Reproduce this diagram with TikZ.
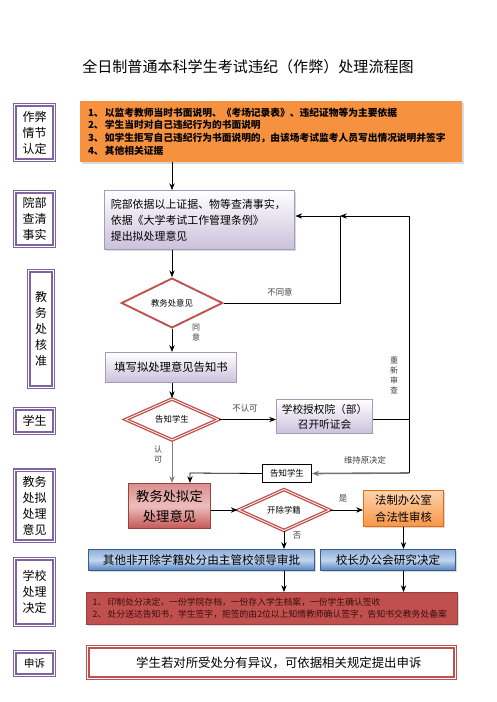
\documentclass[tikz,border=0pt]{standalone}
\usepackage{fontspec}
\setmainfont{Noto Sans CJK SC}
\usepackage{tikz}
\usetikzlibrary{shapes.geometric, arrows.meta, positioning, shadows}
\definecolor{lblpurple}{HTML}{8064A2}
\definecolor{evidorange}{HTML}{F5913F}
\definecolor{palebot}{HTML}{CBC0DC}
\definecolor{paleline}{HTML}{A39BB8}
\definecolor{warnred}{HTML}{C0504D}
\definecolor{drafttop}{HTML}{D98F8E}
\definecolor{draftmid}{HTML}{EDBDBC}
\definecolor{draftbot}{HTML}{C45856}
\definecolor{legaltop}{HTML}{FCD3AE}
\definecolor{legalbot}{HTML}{F79646}
\definecolor{legalline}{HTML}{E46C0A}
\definecolor{bluetop}{HTML}{8EAEDA}
\definecolor{bluemid}{HTML}{C3D6EE}
\definecolor{bluebot}{HTML}{5484C2}
\definecolor{blueline}{HTML}{385D8A}
\definecolor{decidetext}{HTML}{3B0E0D}
\newcommand\numitem[2][12.75pt]{\makebox[#1][l]{#2}}
\tikzset{
  lbl/.style={rectangle, draw=lblpurple, line width=1.1pt, double=white, double distance=0.6pt, fill=white, align=center, font=\fontsize{9}{12}\selectfont, inner sep=0pt},
  shade/.style={drop shadow={shadow xshift=1.2pt, shadow yshift=-1.2pt, opacity=0.3}},
  evid/.style={rectangle, fill=evidorange, align=left, font=\bfseries\fontsize{7.3}{9.5}\selectfont, inner xsep=6pt, inner ysep=3pt, shade},
  pale/.style={rectangle, draw=paleline, line width=0.8pt, top color=white, bottom color=palebot, align=center, inner sep=2pt},
  choice/.style={diamond, draw=warnred, line width=1.4pt, fill=white, align=center, font=\fontsize{6.3}{7.5}\selectfont, inner sep=0pt},
  choicetwo/.style={choice, line width=1pt, double=white, double distance=0.6pt},
  tag/.style={rectangle, draw=black, line width=0.7pt, fill=white, font=\fontsize{6.3}{7.5}\selectfont, inner sep=0pt},
  draft/.style={rectangle, draw=warnred!80!black, line width=0.7pt, top color=drafttop, bottom color=draftbot, middle color=draftmid, align=center, font=\fontsize{10}{15}\selectfont, inner sep=0pt},
  legal/.style={rectangle, draw=legalline, line width=0.7pt, top color=legaltop, bottom color=legalbot, align=center, font=\fontsize{8.5}{12.75}\selectfont, inner sep=0pt, shade},
  blueb/.style={rectangle, draw=blueline, line width=0.7pt, top color=bluetop, bottom color=bluebot, middle color=bluemid, font=\fontsize{8.7}{10}\selectfont, inner sep=0pt, shade},
  decide/.style={rectangle, draw=warnred!80!black, line width=0.6pt, fill=warnred, text=decidetext, align=left, font=\fontsize{6.6}{9}\selectfont, inner xsep=5pt, inner ysep=2pt, shade},
  appeal/.style={rectangle, draw=warnred, line width=1.2pt, double=white, double distance=0.8pt, fill=white, font=\fontsize{9.3}{11}\selectfont, inner sep=0pt},
  note/.style={font=\fontsize{6.3}{7.5}\selectfont, text=black!75, inner sep=0pt},
  vnote/.style={note, font=\fontsize{6}{7.5}\selectfont, align=center},
  arr/.style={-{Stealth[length=1.8mm, width=1.4mm]}, line width=0.6pt, black},
  line/.style={line width=0.6pt, black},
}
\begin{document}
\begin{tikzpicture}[x=0.75pt, y=-0.75pt]
\useasboundingbox (0,0) rectangle (496,702);
\node[font=\fontsize{11.3}{13}\selectfont] (title) at (248,67) {全日制普通本科学生考试违纪（作弊）处理流程图};

\node[lbl, minimum width=29.5pt, minimum height=41.5pt] (lA) at (34.5,132.5) {作弊\\情节\\认定};
\node[lbl, minimum width=29.5pt, minimum height=40.7pt] (lB) at (34.5,219) {院部\\查清\\事实};
\node[lbl, minimum width=18.2pt, minimum height=87.2pt] (lC) at (41,329) {教\\务\\处\\核\\准};
\node[lbl, minimum width=29.5pt, minimum height=18.2pt] (lD) at (34.5,421) {学生};
\node[lbl, minimum width=29.5pt, minimum height=53.4pt] (lE) at (34.5,505.5) {教务\\处拟\\处理\\意见};
\node[lbl, minimum width=29.5pt, minimum height=49.7pt] (lF) at (34.5,592) {学校\\处理\\决定};
\node[lbl, minimum width=29.5pt, minimum height=17.5pt, font=\fontsize{8}{10}\selectfont] (lG) at (34.5,663.5) {申诉};

\node[evid, text width=274.5pt, minimum height=45.75pt] (evid) at (271,131.5) {\numitem{1、}以监考教师当时书面说明、《考场记录表》、违纪证物等为主要依据\\\numitem{2、}学生当时对自己违纪行为的书面说明\\\numitem{3、}如学生拒写自己违纪行为书面说明的，由该场考试监考人员写出情况说明并签字\\\numitem{4、}其他相关证据};
\node[pale, shade, align=left, text width=133pt, inner xsep=5pt, minimum height=44pt, font=\fontsize{8.2}{12}\selectfont] (judge) at (199.5,220) {院部依据以上证据、物等查清事实，\\依据《大学考试工作管理条例》\\提出拟处理意见};
\node[choice, minimum width=76pt, minimum height=30pt] (d1) at (172,303) {教务处意见};
\node[pale, minimum width=98pt, minimum height=22.5pt, font=\fontsize{8.5}{10}\selectfont] (notice) at (171,367.5) {填写拟处理意见告知书};
\node[choicetwo, minimum width=70pt, minimum height=23pt] (d2) at (172,419.5) {告知学生};
\node[pale, minimum width=72pt, minimum height=25.5pt, font=\fontsize{8}{11.25}\selectfont] (hear) at (324.5,416.5) {学校授权院（部）\\召开听证会};
\node[tag, minimum width=37pt, minimum height=13.8pt] (tell) at (287,473.5) {告知学生};
\node[draft, minimum width=61.5pt, minimum height=33.8pt] (draft) at (169.5,506) {教务处拟定\\处理意见};
\node[choicetwo, minimum width=68.5pt, minimum height=23.5pt] (d3) at (284,510) {开除学籍};
\node[legal, minimum width=60pt, minimum height=27pt] (legal) at (403.5,508.5) {法制办公室\\合法性审核};
\node[blueb, minimum width=169.5pt, minimum height=15.8pt] (blueA) at (201.5,560) {其他非开除学籍处分由主管校领导审批};
\node[blueb, minimum width=101.3pt, minimum height=15.8pt] (blueB) at (388,560) {校长办公会研究决定};
\node[decide, text width=268.25pt, minimum height=24pt] (decide) at (271.5,608.5) {\numitem[11.25pt]{1、}印制处分决定，一份学院存档，一份存入学生档案，一份学生确认签收\\\numitem[11.25pt]{2、}处分送达告知书，学生签字，拒签的由2位以上知情教师确认签字，告知书交教务处备案};
\node[appeal, minimum width=275.5pt, minimum height=23.5pt] (appeal) at (271.5,662.5) {\hspace{11pt}学生若对所受处分有异议，可依据相关规定提出申诉};

\coordinate (k1) at (340,216);
\coordinate (k2) at (409,216);
\coordinate (k3) at (409,473);
\coordinate (k4) at (190,473);

\draw[arr] (evid.south -| d1.north) -- (judge.north -| d1.north);
\draw[arr] (judge.south -| d1.north) -- (d1.north);
\draw[arr] (d1.east) -| (k1) -- (k1 -| judge.east);
\draw[line] (k3) -- (k2);
\draw[arr] (k2) -- (k1);
\draw[arr] (d1.south) -- (d1.south |- notice.north);
\draw[arr] (notice.south -| d2.north) -- (d2.north);
\draw[arr] (d2.east) -- (d2.east -| hear.west);
\draw[line] (hear.east |- d2.east) -- (d2.east -| k2);
\draw[arr, black!50] (d2.south) -- (d2.south |- draft.north);
\draw[arr, black!55, line width=1.2pt] (k3) -- (tell.east);
\draw[arr] (tell.west) -- (k4) -- (k4 |- draft.north);
\draw[arr] (draft.east |- d3.west) -- (d3.west);
\draw[arr] (d3.east) -- (legal.west |- d3.east);
\draw[arr] (d3.south) -- (d3.south |- blueA.north);
\draw[arr] (legal.south) -- (legal.south |- blueB.north);
\draw[arr] (blueA.south -| d3.south) -- (decide.north -| d3.south);
\draw[arr] (blueB.south -| legal.south) -- (decide.north -| legal.south);

\node[note] at (280,292) {不同意};
\node[vnote] at (196,333) {同\\意};
\node[vnote] at (394,375) {重\\新\\审\\查};
\node[note] at (245,408) {不认可};
\node[vnote] at (158,454) {认\\可};
\node[note] at (365,460) {维持原决定};
\node[note] at (343,498) {是};
\node[note] at (297,536) {否};
\end{tikzpicture}
\end{document}
